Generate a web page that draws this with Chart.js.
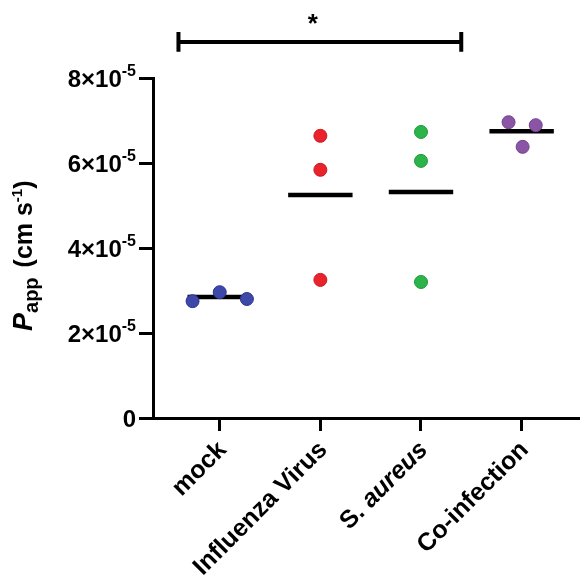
<!DOCTYPE html>
<html>
<head>
<meta charset="utf-8">
<script src="https://cdn.jsdelivr.net/npm/chart.js@4"></script>
<style>
  html, body { margin: 0; padding: 0; background: #fff; }
  #wrap { width: 587px; height: 583px; }
</style>
</head>
<body>
<div id="wrap"><canvas id="chart"></canvas></div>
<script>
// groupes (axe x)
const groups = ['mock', 'Influenza Virus', 'S. aureus', 'Co-infection'];

// Papp en unités de 10^-5 cm/s
const mockVals = [2.75, 2.96, 2.80];
const influenzaVals = [6.64, 5.84, 3.25];
const aureusVals = [6.73, 6.05, 3.20];
const coinfVals = [6.96, 6.89, 6.38];
const meanVals = [2.85, 5.25, 5.32, 6.75];

// décalage horizontal des points superposés (en largeur de groupe)
const mockSpread = [-0.27, 0, 0.27];
const influenzaSpread = [0, 0, 0];
const aureusSpread = [0, 0, 0];
const coinfSpread = [-0.13, 0.14, 0.01];

const groupColors = ['#3d48a8', '#e8232b', '#2cb34a', '#8b55a6'];
const groupBorders = ['#2b3490', '#d0151d', '#1f9a3a', '#74418f'];

// axe y : valeur, mantisse, exposant
const yTicks = [0, 2, 4, 6, 8];
const yTickBase = ['0', '2×10', '4×10', '6×10', '8×10'];
const yTickExp = ['', '-5', '-5', '-5', '-5'];

// barre de significativité : de / à (groupes), hauteur, texte
const sigFrom = -0.41;
const sigTo = 2.40;
const sigLevel = 8.85;
const sigLabel = '*';

const allVals = [mockVals, influenzaVals, aureusVals, coinfVals];
const allSpread = [mockSpread, influenzaSpread, aureusSpread, coinfSpread];

const datasets = [];

// lignes de moyenne
meanVals.forEach((m, i) => {
    datasets.push({
        type: 'line',
        data: [{ x: i - 0.32, y: m }, { x: i + 0.32, y: m }],
        borderColor: '#000',
        borderWidth: 4.5,
        pointRadius: 0,
        order: 2
    });
});

// points
allVals.forEach((vals, i) => {
    datasets.push({
        type: 'scatter',
        data: vals.map((v, k) => ({ x: i + allSpread[i][k], y: v })),
        backgroundColor: groupColors[i],
        borderColor: groupBorders[i],
        borderWidth: 1,
        pointRadius: 6.5,
        order: 1
    });
});

// crochet de significativité
const tickH = 0.235;
datasets.push({
    type: 'line',
    data: [
        { x: sigFrom, y: sigLevel + tickH }, { x: sigFrom, y: sigLevel - tickH },
        { x: sigFrom, y: sigLevel }, { x: sigTo, y: sigLevel },
        { x: sigTo, y: sigLevel + tickH }, { x: sigTo, y: sigLevel - tickH }
    ],
    borderColor: '#000',
    borderWidth: 4,
    pointRadius: 0,
    clip: false,
    order: 0
});

const fam = '"Liberation Sans", Arial, sans-serif';

// texte riche : étiquettes des axes, titre y, étoile
const textPlugin = {
    id: 'richText',
    afterDraw(chart) {
        const ctx = chart.ctx;
        const xs = chart.scales.x;
        const ys = chart.scales.y;
        ctx.save();
        ctx.fillStyle = '#000';

        // étiquettes y avec exposant
        yTicks.forEach((v, i) => {
            const py = ys.getPixelForValue(v);
            const right = ys.right - 17;
            ctx.textBaseline = 'alphabetic';
            ctx.textAlign = 'right';
            let x = right;
            if (yTickExp[i]) {
                ctx.font = 'bold 16px ' + fam;
                ctx.fillText(yTickExp[i], x, py - 2);
                x -= ctx.measureText(yTickExp[i]).width;
            }
            ctx.font = 'bold 24px ' + fam;
            ctx.fillText(yTickBase[i], x, py + 8.5);
        });

        // étiquettes x inclinées
        groups.forEach((g, i) => {
            const px = xs.getPixelForValue(i);
            ctx.save();
            ctx.translate(px + 3, 446);
            ctx.rotate(-Math.PI / 4);
            ctx.textAlign = 'right';
            ctx.textBaseline = 'middle';
            if (g.startsWith('S. ')) {
                ctx.font = 'italic bold 25px ' + fam;
                const rest = g.slice(3);
                ctx.fillText(rest, 0, 0);
                const w = ctx.measureText(rest).width;
                ctx.font = 'bold 25px ' + fam;
                ctx.fillText('S. ', -w, 0);
            } else {
                ctx.font = 'bold 25px ' + fam;
                ctx.fillText(g, 0, 0);
            }
            ctx.restore();
        });

        // titre de l'axe y
        const parts = [
            { t: 'P', f: 'italic bold 27px ' + fam, dy: 0, gap: 0 },
            { t: 'app', f: 'bold 20px ' + fam, dy: 6, gap: 0 },
            { t: '(cm s', f: 'bold 25px ' + fam, dy: 0, gap: 10 },
            { t: '-1', f: 'bold 15px ' + fam, dy: -10, gap: 0 },
            { t: ')', f: 'bold 25px ' + fam, dy: 0, gap: 0 }
        ];
        ctx.save();
        ctx.translate(32, 331);
        ctx.rotate(-Math.PI / 2);
        ctx.textAlign = 'left';
        ctx.textBaseline = 'alphabetic';
        let cx = 0;
        parts.forEach(p => {
            ctx.font = p.f;
            cx += p.gap;
            ctx.fillText(p.t, cx, p.dy);
            cx += ctx.measureText(p.t).width;
        });
        ctx.restore();

        // étoile
        ctx.font = 'bold 26px ' + fam;
        ctx.textAlign = 'center';
        ctx.textBaseline = 'alphabetic';
        const sx = xs.getPixelForValue((sigFrom + sigTo) / 2) - 7;
        ctx.fillText(sigLabel, sx, ys.getPixelForValue(sigLevel) - 10);
        ctx.restore();
    }
};

new Chart(document.getElementById('chart'), {
    data: { datasets: datasets },
    options: {
        responsive: true,
        maintainAspectRatio: false,
        animation: false,
        layout: { padding: { top: 78, right: 0, left: 0, bottom: 0 } },
        plugins: { legend: { display: false }, tooltip: { enabled: false } },
        scales: {
            x: {
                type: 'linear',
                min: -0.663,
                max: 3.575,
                afterBuildTicks: s => { s.ticks = groups.map((g, i) => ({ value: i })); },
                afterFit: s => { s.height = 165; },
                ticks: { display: false },
                grid: {
                    drawOnChartArea: false,
                    drawTicks: true,
                    tickLength: 13,
                    tickWidth: 3,
                    tickColor: '#000'
                },
                border: { display: true, color: '#000', width: 3 }
            },
            y: {
                type: 'linear',
                min: 0,
                max: 8,
                afterBuildTicks: s => { s.ticks = yTicks.map(v => ({ value: v })); },
                afterFit: s => { s.width = 153; },
                ticks: { display: false },
                grid: {
                    drawOnChartArea: false,
                    drawTicks: true,
                    tickLength: 14,
                    tickWidth: 3,
                    tickColor: '#000'
                },
                border: { display: true, color: '#000', width: 3 }
            }
        }
    },
    plugins: [textPlugin]
});
</script>
</body>
</html>
